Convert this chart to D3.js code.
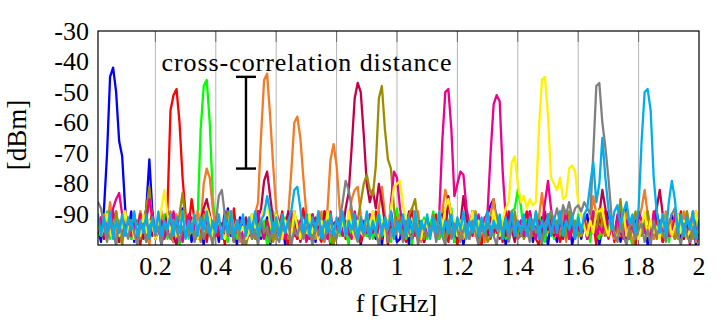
<!DOCTYPE html>
<html>
<head>
<meta charset="utf-8">
<script src="https://cdn.jsdelivr.net/npm/d3@7"></script>
<style>
html,body{margin:0;padding:0;background:#fff;}
svg{display:block;}
text{font-family:"Liberation Serif","Times New Roman",serif;fill:#000;}
</style>
</head>
<body>
<svg id="chart" width="721" height="328"></svg>
<script>
// ---- data ----
// frequency grid (GHz): first sample and spacing of the measured spectra
const freqStart = 0.01;
const freqStep = 0.01;

const xTickValues = [0.2, 0.4, 0.6, 0.8, 1, 1.2, 1.4, 1.6, 1.8, 2];
const xTickLabels = ["0.2", "0.4", "0.6", "0.8", "1", "1.2", "1.4", "1.6", "1.8", "2"];
const yTickValues = [-30, -40, -50, -60, -70, -80, -90];
const yTickLabels = ["-30", "-40", "-50", "-60", "-70", "-80", "-90"];

const seriesNames = ["blue", "red", "green", "orange", "purple", "olive", "magenta", "yellow", "gray", "cyan"];
const seriesColors = ["#0000ff", "#ff0000", "#00ff00", "#f57a25", "#c2004a", "#9c8d00", "#ec008c", "#fff200", "#808080", "#00aeef"];

const annotationLabel = "cross-correlation distance";
const annotationF = 0.5;
const annotationTop = -45;
const annotationBottom = -75;

// power levels in dBm, one value per frequency sample (0.01 ... 2.00 GHz)
const blue = [
-95,-99,-88,-70,-45,-42,-50,-66,-71,-88,
-96,-89,-99,-92,-97,-94,-88,-72,-89,-98,
-93,-100,-94,-89,-97,-99,-92,-96,-88,-97,
-94,-99,-91,-96,-93,-100,-89,-95,-98,-92,
-99,-93,-96,-88,-97,-94,-100,-91,-95,-99,
-92,-97,-94,-89,-98,-95,-91,-100,-94,-90,
-97,-93,-100,-92,-95,-89,-98,-94,-97,-91,
-95,-90,-99,-94,-92,-98,-89,-96,-100,-93,
-92,-97,-94,-99,-89,-96,-93,-100,-94,-97,
-90,-96,-98,-93,-100,-92,-97,-89,-95,-99,
-98,-92,-95,-100,-93,-89,-97,-94,-99,-91,
-96,-90,-97,-94,-91,-88,-86,-93,-99,-95,
-92,-100,-94,-97,-89,-96,-98,-93,-95,-90,
-87,-85,-92,-97,-93,-100,-95,-90,-98,-94,
-97,-92,-96,-89,-99,-94,-97,-91,-95,-100,
-92,-96,-99,-93,-89,-97,-92,-100,-95,-93,
-98,-93,-90,-97,-95,-92,-100,-94,-97,-89,
-94,-97,-91,-99,-95,-88,-98,-94,-92,-97,
-96,-92,-100,-93,-97,-89,-95,-99,-92,-94,
-90,-97,-94,-99,-92,-96,-98,-93,-100,-95
];
const red = [
-96,-91,-98,-93,-97,-89,-94,-99,-92,-95,
-93,-98,-90,-96,-100,-92,-97,-94,-89,-98,
-95,-92,-97,-88,-56,-51,-49,-60,-78,-90,
-94,-85,-92,-98,-95,-89,-99,-93,-97,-91,
-97,-93,-100,-91,-96,-88,-98,-94,-100,-95,
-92,-98,-95,-89,-97,-93,-99,-91,-96,-98,
-94,-89,-97,-100,-92,-96,-98,-93,-88,-97,
-98,-93,-91,-97,-99,-89,-95,-100,-93,-92,
-95,-90,-98,-94,-89,-97,-93,-99,-96,-91,
-93,-97,-89,-96,-98,-92,-100,-94,-97,-90,
-91,-96,-99,-93,-88,-97,-92,-98,-95,-94,
-97,-93,-90,-98,-95,-92,-99,-93,-96,-100,
-93,-98,-92,-96,-89,-97,-94,-100,-91,-95,
-98,-91,-96,-93,-99,-89,-97,-94,-92,-98,
-95,-93,-89,-97,-92,-98,-100,-94,-96,-90,
-92,-97,-94,-99,-95,-89,-98,-92,-97,-94,
-97,-92,-98,-95,-93,-100,-91,-96,-89,-95,
-93,-99,-91,-97,-89,-95,-98,-93,-100,-92,
-96,-90,-97,-93,-98,-92,-95,-99,-93,-97,
-92,-98,-95,-89,-97,-93,-100,-92,-96,-94
];
const green = [
-97,-93,-96,-89,-98,-94,-100,-92,-95,-90,
-93,-98,-92,-97,-89,-96,-99,-94,-91,-97,
-92,-96,-90,-98,-94,-97,-92,-100,-95,-93,
-98,-93,-96,-91,-62,-48,-46,-60,-84,-96,
-92,-97,-94,-99,-89,-95,-98,-92,-97,-94,
-96,-90,-98,-94,-97,-92,-100,-95,-89,-98,
-93,-97,-91,-96,-99,-89,-94,-98,-95,-92,
-90,-96,-98,-92,-95,-97,-89,-99,-94,-96,
-97,-92,-95,-100,-89,-94,-98,-93,-96,-97,
-92,-98,-94,-89,-97,-95,-92,-99,-93,-88,
-96,-93,-98,-92,-100,-89,-97,-94,-91,-98,
-94,-89,-96,-98,-92,-97,-94,-88,-99,-95,
-98,-95,-91,-94,-97,-89,-100,-95,-92,-94,
-91,-97,-94,-96,-92,-98,-94,-89,-88,-82,
-87,-96,-92,-98,-94,-97,-90,-95,-99,-92,
-94,-98,-95,-89,-97,-92,-96,-94,-98,-90,
-97,-92,-94,-99,-89,-96,-98,-92,-94,-97,
-92,-96,-98,-86,-94,-90,-97,-100,-95,-92,
-96,-94,-89,-97,-92,-98,-94,-96,-90,-99,
-94,-97,-92,-96,-98,-89,-95,-93,-97,-92
];
const orange = [
-93,-97,-90,-95,-86,-94,-98,-92,-96,-89,
-96,-92,-98,-94,-89,-97,-93,-100,-92,-96,
-94,-89,-97,-92,-96,-99,-90,-94,-98,-92,
-97,-92,-96,-89,-94,-80,-75,-78,-88,-95,
-92,-98,-94,-97,-89,-96,-92,-99,-94,-97,
-96,-92,-90,-86,-64,-46,-44,-58,-74,-88,
-94,-97,-92,-90,-76,-60,-58,-65,-78,-90,
-92,-96,-98,-94,-89,-97,-88,-72,-67,-74,
-88,-95,-97,-92,-85,-82,-81,-90,-96,-92,
-96,-89,-97,-88,-81,-90,-95,-98,-92,-96,
-90,-97,-94,-92,-98,-95,-89,-99,-94,-97,
-95,-92,-98,-96,-89,-82,-86,-94,-97,-92,
-96,-98,-92,-94,-97,-89,-96,-92,-99,-94,
-90,-85,-94,-97,-92,-96,-98,-89,-94,-97,
-96,-92,-97,-89,-94,-98,-91,-83,-92,-96,
-92,-97,-94,-96,-89,-99,-92,-95,-98,-93,
-97,-90,-96,-92,-84,-90,-94,-97,-92,-96,
-94,-98,-92,-97,-95,-89,-94,-99,-96,-92,
-88,-82,-90,-96,-98,-94,-92,-97,-89,-96,
-92,-96,-98,-94,-89,-97,-95,-92,-99,-94
];
const purple = [
-96,-92,-98,-93,-95,-97,-89,-99,-94,-92,
-93,-97,-92,-96,-90,-98,-94,-92,-97,-95,
-92,-98,-95,-89,-94,-97,-100,-92,-96,-93,
-97,-91,-94,-98,-92,-88,-85,-90,-95,-97,
-92,-96,-89,-97,-94,-99,-92,-95,-98,-91,
-96,-93,-97,-91,-88,-79,-76,-84,-92,-96,
-92,-98,-94,-89,-96,-97,-92,-99,-94,-90,
-97,-92,-96,-94,-98,-89,-95,-92,-97,-94,
-91,-96,-88,-83,-68,-52,-47,-50,-64,-80,
-86,-82,-88,-80,-86,-93,-96,-91,-97,-94,
-92,-97,-94,-89,-98,-95,-92,-94,-99,-91,
-96,-92,-98,-94,-90,-97,-84,-92,-96,-98,
-93,-84,-91,-97,-92,-96,-98,-92,-94,-97,
-91,-96,-94,-98,-92,-97,-89,-95,-99,-93,
-97,-92,-96,-90,-94,-98,-92,-97,-89,-95,
-92,-97,-94,-96,-98,-89,-95,-92,-97,-94,
-96,-91,-98,-94,-92,-97,-90,-82,-88,-95,
-94,-97,-92,-89,-96,-98,-94,-92,-97,-90,
-92,-96,-94,-97,-90,-88,-82,-90,-96,-92,
-97,-94,-90,-96,-98,-92,-95,-94,-89,-97
];
const olive = [
-91,-96,-93,-98,-94,-97,-89,-95,-100,-92,
-97,-94,-90,-96,-98,-92,-88,-81,-92,-96,
-94,-98,-92,-96,-89,-97,-94,-90,-83,-92,
-96,-92,-97,-94,-99,-90,-96,-92,-98,-94,
-92,-97,-94,-89,-96,-98,-92,-97,-94,-100,
-96,-90,-98,-94,-92,-97,-96,-89,-99,-94,
-97,-94,-92,-98,-89,-96,-94,-97,-92,-96,
-92,-98,-95,-89,-94,-97,-92,-96,-100,-94,
-96,-92,-97,-94,-90,-96,-92,-86,-80,-77,
-82,-84,-74,-52,-48,-62,-72,-75,-88,-95,
-92,-97,-94,-90,-88,-85,-93,-96,-98,-94,
-96,-90,-97,-94,-92,-98,-96,-89,-94,-97,
-92,-96,-94,-98,-89,-97,-92,-96,-94,-99,
-97,-94,-90,-96,-98,-92,-97,-94,-89,-96,
-94,-98,-96,-92,-97,-89,-94,-98,-96,-92,
-90,-96,-92,-97,-94,-98,-89,-96,-92,-97,
-96,-92,-98,-94,-89,-96,-88,-92,-97,-94,
-92,-97,-94,-85,-96,-92,-98,-94,-89,-96,
-97,-94,-89,-96,-92,-98,-94,-90,-97,-93,
-94,-98,-96,-92,-97,-89,-95,-98,-92,-94
];
const magenta = [
-95,-91,-97,-93,-96,-88,-85,-83,-90,-95,
-92,-97,-94,-98,-90,-96,-92,-85,-91,-97,
-96,-92,-98,-94,-97,-89,-95,-92,-99,-94,
-90,-96,-94,-97,-92,-98,-89,-95,-94,-97,
-94,-98,-92,-96,-89,-97,-94,-92,-98,-95,
-97,-92,-96,-89,-94,-98,-92,-97,-95,-90,
-92,-96,-98,-94,-89,-97,-95,-92,-94,-99,
-96,-90,-94,-97,-92,-96,-98,-89,-97,-93,
-94,-97,-92,-96,-98,-89,-94,-97,-92,-96,
-90,-96,-94,-97,-92,-95,-98,-86,-76,-78,
-88,-94,-97,-92,-96,-89,-98,-94,-92,-97,
-96,-92,-97,-90,-66,-50,-49,-62,-84,-80,
-76,-77,-88,-93,-97,-94,-90,-96,-92,-89,
-70,-54,-51,-53,-76,-91,-96,-92,-97,-94,
-92,-97,-94,-89,-96,-98,-92,-94,-86,-79,
-88,-94,-97,-92,-96,-89,-98,-94,-97,-92,
-96,-92,-98,-94,-89,-97,-94,-96,-92,-98,
-94,-97,-90,-96,-98,-92,-95,-94,-97,-89,
-92,-96,-94,-98,-89,-97,-92,-96,-94,-97,
-97,-90,-96,-94,-92,-98,-94,-89,-96,-93
];
const yellow = [
-93,-97,-94,-90,-96,-98,-92,-97,-94,-89,
-96,-92,-98,-94,-97,-90,-96,-92,-93,-98,
-94,-88,-82,-90,-96,-92,-97,-94,-89,-96,
-97,-94,-90,-98,-92,-96,-88,-91,-97,-94,
-92,-96,-98,-94,-89,-97,-92,-96,-94,-98,
-96,-90,-94,-97,-92,-88,-86,-93,-96,-90,
-94,-98,-92,-96,-97,-89,-94,-98,-92,-96,
-90,-96,-94,-98,-92,-97,-89,-96,-94,-97,
-96,-92,-97,-89,-94,-98,-92,-96,-97,-90,
-94,-89,-96,-98,-92,-97,-94,-88,-81,-80,
-79,-87,-92,-97,-94,-89,-96,-98,-92,-94,
-97,-92,-96,-89,-94,-88,-85,-90,-92,-97,
-92,-96,-98,-94,-89,-97,-92,-96,-94,-90,
-96,-89,-94,-97,-92,-88,-86,-73,-71,-80,
-86,-84,-88,-85,-87,-86,-62,-46,-45,-58,
-78,-80,-82,-78,-85,-84,-75,-74,-76,-86,
-90,-94,-97,-92,-96,-89,-89,-88,-94,-97,
-92,-96,-98,-94,-89,-97,-94,-92,-96,-98,
-94,-89,-97,-92,-96,-94,-98,-90,-97,-92,
-97,-94,-90,-96,-92,-98,-95,-94,-89,-96
];
const gray = [
-86,-88,-94,-99,-92,-96,-100,-93,-97,-95,
-98,-92,-96,-100,-94,-93,-99,-95,-92,-97,
-94,-100,-93,-96,-98,-92,-95,-99,-94,-96,
-97,-93,-99,-95,-92,-98,-94,-96,-100,-93,
-84,-82,-90,-97,-94,-99,-93,-96,-100,-95,
-93,-98,-95,-100,-92,-96,-94,-99,-93,-97,
-99,-94,-96,-92,-100,-95,-97,-93,-98,-94,
-95,-100,-93,-97,-94,-99,-92,-96,-95,-98,
-92,-86,-79,-82,-88,-96,-99,-93,-97,-94,
-98,-93,-96,-100,-94,-92,-99,-95,-97,-93,
-94,-99,-92,-96,-98,-93,-100,-94,-95,-97,
-96,-93,-99,-94,-97,-100,-92,-98,-93,-95,
-99,-95,-93,-98,-92,-96,-100,-94,-97,-93,
-94,-97,-100,-93,-96,-92,-99,-95,-94,-98,
-97,-93,-95,-99,-92,-96,-94,-100,-93,-91,
-89,-92,-88,-93,-87,-90,-86,-91,-88,-87,
-89,-86,-88,-90,-70,-48,-47,-60,-68,-78,
-90,-96,-99,-93,-97,-100,-94,-92,-98,-95,
-93,-99,-95,-100,-92,-97,-94,-96,-99,-93,
-90,-88,-96,-100,-93,-97,-99,-94,-96,-98
];
const cyan = [
-90,-97,-91,-96,-89,-98,-92,-96,-90,-97,
-91,-95,-89,-97,-92,-96,-90,-98,-91,-96,
-89,-97,-92,-95,-90,-97,-91,-96,-89,-98,
-92,-96,-90,-97,-91,-95,-89,-97,-92,-96,
-90,-98,-91,-96,-89,-97,-92,-95,-90,-97,
-91,-96,-89,-97,-92,-90,-84,-89,-96,-91,
-97,-90,-96,-92,-89,-82,-81,-88,-96,-90,
-97,-91,-95,-89,-98,-92,-96,-90,-97,-91,
-96,-89,-97,-92,-95,-90,-98,-91,-96,-89,
-97,-92,-96,-90,-97,-91,-95,-89,-98,-92,
-96,-90,-97,-91,-96,-89,-97,-92,-95,-90,
-98,-91,-96,-89,-97,-92,-96,-90,-97,-91,
-95,-89,-98,-92,-96,-90,-97,-91,-96,-89,
-97,-92,-95,-90,-98,-91,-96,-89,-97,-92,
-96,-90,-97,-91,-95,-89,-98,-92,-96,-90,
-97,-91,-96,-89,-97,-92,-95,-90,-98,-91,
-96,-90,-88,-80,-73,-86,-80,-65,-78,-88,
-95,-89,-87,-94,-89,-86,-93,-90,-96,-88,
-66,-50,-49,-56,-78,-89,-96,-90,-97,-86,
-79,-85,-96,-90,-97,-91,-95,-89,-98,-92
];
const seriesValues = [blue, red, green, orange, purple, olive, magenta, yellow, gray, cyan];

// ---- layout ----
const W = 721, H = 328;
const plot = {left: 98, right: 699, top: 31, bottom: 245};
const svg = d3.select("#chart");

const x = d3.scaleLinear().domain([0.01, 2]).range([plot.left, plot.right]);
const y = d3.scaleLinear().domain([-100, -30]).range([plot.bottom, plot.top]);

svg.append("defs").append("clipPath").attr("id", "clip")
  .append("rect").attr("x", plot.left).attr("y", plot.top)
  .attr("width", plot.right - plot.left).attr("height", plot.bottom - plot.top);

// grid
const gridColor = "#b5b5b5";
const grid = svg.append("g");
grid.selectAll(".gx").data(xTickValues.filter(v => v < 2)).enter().append("line")
  .attr("x1", d => x(d)).attr("x2", d => x(d))
  .attr("y1", plot.top).attr("y2", plot.bottom)
  .attr("stroke", gridColor).attr("stroke-width", 1);
grid.selectAll(".gy").data(yTickValues.filter(v => v > -30)).enter().append("line")
  .attr("x1", plot.left).attr("x2", plot.right)
  .attr("y1", d => y(d)).attr("y2", d => y(d))
  .attr("stroke", gridColor).attr("stroke-width", 1);

// inward tick marks (drawn under the data, like the original)
const tickLen = 11, tickColor = "#6b6b6b";
const ticks = svg.append("g").attr("stroke", tickColor).attr("stroke-width", 1);
xTickValues.filter(v => v < 2).forEach(v => {
  ticks.append("line").attr("x1", x(v)).attr("x2", x(v)).attr("y1", plot.top).attr("y2", plot.top + tickLen);
  ticks.append("line").attr("x1", x(v)).attr("x2", x(v)).attr("y1", plot.bottom).attr("y2", plot.bottom - tickLen);
});
yTickValues.filter(v => v > -30).forEach(v => {
  ticks.append("line").attr("x1", plot.left).attr("x2", plot.left + tickLen).attr("y1", y(v)).attr("y2", y(v));
  ticks.append("line").attr("x1", plot.right).attr("x2", plot.right - tickLen).attr("y1", y(v)).attr("y2", y(v));
});

// spectra
const line = d3.line().x(d => x(d.f)).y(d => y(d.v));
const dataG = svg.append("g").attr("clip-path", "url(#clip)");
seriesValues.forEach((vals, si) => {
  const pts = vals.map((v, i) => ({f: +(freqStart + i * freqStep).toFixed(2), v: v}));
  dataG.append("path").datum(pts)
    .attr("d", line)
    .attr("fill", "none")
    .attr("stroke", seriesColors[si])
    .attr("stroke-width", 2.3)
    .attr("stroke-linejoin", "round")
    .attr("stroke-linecap", "round");
});

// frame
svg.append("rect").attr("x", plot.left).attr("y", plot.top)
  .attr("width", plot.right - plot.left).attr("height", plot.bottom - plot.top)
  .attr("fill", "none").attr("stroke", "#000").attr("stroke-width", 1.2);

// tick labels
const fs = 26;
svg.append("g").selectAll("text").data(yTickValues).enter().append("text")
  .attr("x", plot.left - 9).attr("y", d => y(d)).attr("dy", "0.33em")
  .attr("text-anchor", "end").style("font-size", fs + "px")
  .text((d, i) => yTickLabels[i]);
svg.append("g").selectAll("text").data(xTickValues).enter().append("text")
  .attr("x", d => x(d)).attr("y", plot.bottom + 30)
  .attr("text-anchor", "middle").style("font-size", fs + "px")
  .text((d, i) => xTickLabels[i]);

// axis titles
svg.append("text").attr("x", (plot.left + plot.right) / 2 - 2).attr("y", 312)
  .attr("text-anchor", "middle").style("font-size", fs + "px").text("f [GHz]");
svg.append("text").attr("transform", "translate(26,135) rotate(-90)")
  .attr("text-anchor", "middle").style("font-size", "27px").text("[dBm]");

// annotation: cross-correlation distance bar
const ann = svg.append("g").attr("stroke", "#000").attr("stroke-width", 2.4);
const ax = x(annotationF), capHalf = 10;
ann.append("line").attr("x1", ax).attr("x2", ax).attr("y1", y(annotationTop)).attr("y2", y(annotationBottom));
ann.append("line").attr("x1", ax - capHalf).attr("x2", ax + capHalf).attr("y1", y(annotationTop)).attr("y2", y(annotationTop));
ann.append("line").attr("x1", ax - capHalf).attr("x2", ax + capHalf).attr("y1", y(annotationBottom)).attr("y2", y(annotationBottom));
svg.append("text").attr("x", x(0.22)).attr("y", y(-43))
  .style("font-size", fs + "px")
  .attr("textLength", 290).attr("lengthAdjust", "spacing")
  .text(annotationLabel);
</script>
</body>
</html>
